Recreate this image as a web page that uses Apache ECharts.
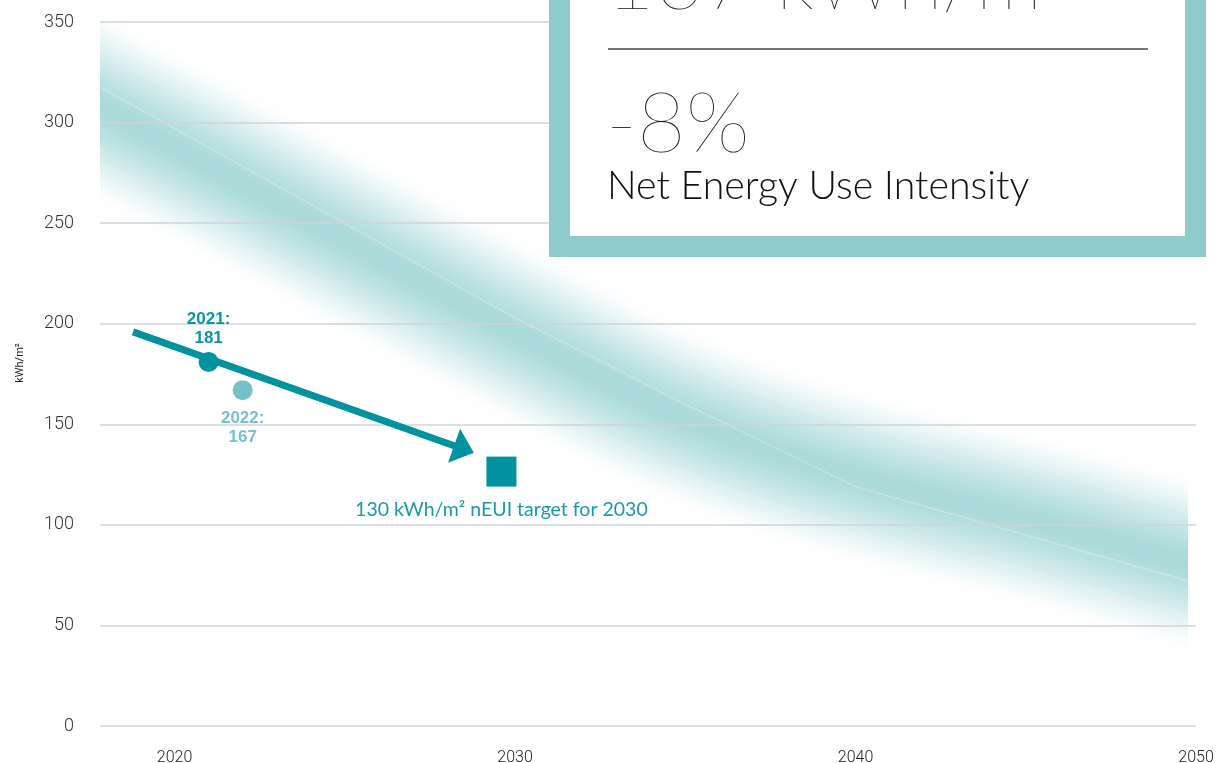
<!DOCTYPE html>
<html>
<head>
<meta charset="utf-8">
<script src="https://cdn.jsdelivr.net/npm/echarts@6/dist/echarts.min.js"></script>
<style>html,body{margin:0;padding:0;background:#fff}#c{width:1216px;height:763px}</style>
</head>
<body>
<div id="c"></div>
<script>
// ---- data ----
const yTicks = [0, 50, 100, 150, 200, 250, 300, 350];
const xTickYears = [2020, 2030, 2040, 2050];
// soft decarbonisation band (centre of the blurred band)
const bandYears  = [2016, 2018, 2020, 2025, 2030, 2035, 2040, 2045, 2050, 2052];
const bandValues = [325, 306, 288, 242, 196, 153, 124, 103, 80, 71];
// pathway line inside the band
const pathYears  = [2016, 2018, 2020, 2025, 2030, 2035, 2040, 2045, 2050, 2052];
const pathValues = [338, 316, 297, 250, 203, 160, 119, 95, 71, 61];
// actual values
const actualYears  = [2021, 2022];
const actualValues = [181, 167];
// trend arrow (start / arrow-head centre)
const trendYears  = [2018.78, 2028.5];
const trendValues = [196, 137.6];
// target
const targetYears  = [2029.6];
const targetValues = [126.5];
const targetLabel = '130 kWh/m\u00b2 nEUI target for 2030';
// KPI box texts
const boxValue  = '167 kWh/m\u00b2';
const boxChange = '-8%';
const boxMetric = 'Net Energy Use Intensity';
const yAxisName = 'kWh/m\u00b2';

// ---- build ----
const bandData = bandYears.map((y, i) => [y, bandValues[i]]);
const pathData = pathYears.map((y, i) => [y, pathValues[i]]);

const N = 22, wMin = 6, wMax = 178, Amax = 0.9;
function smooth(t) { return t * t * (3 - 2 * t); }
const bandSeries = [];
let prevT = 0;
for (let m = 1; m <= N; m++) {
  const T = Amax * smooth(m / N);
  const a = 1 - (1 - T) / (1 - prevT);
  prevT = T;
  const w = wMax - (wMax - wMin) * (m - 1) / (N - 1);
  bandSeries.push({
    type: 'line', data: bandData, symbol: 'none', smooth: 0.35, silent: true,
    animation: false, z: 1,
    lineStyle: { width: w, color: 'rgba(163,214,214,' + a.toFixed(4) + ')', cap: 'butt', join: 'round' }
  });
}

const teal = '#00939f';
const lightTeal = '#76c0c8';

const option = {
  animation: false,
  grid: { left: 100, right: 20, top: 0, bottom: 37, containLabel: false, outerBoundsMode: 'none' },
  xAxis: {
    type: 'value', min: 2017.81, max: 2050, z: 2,
    axisLine: { show: false }, axisTick: { show: false }, splitLine: { show: false },
    axisLabel: { customValues: xTickYears, margin: 24, color: '#222', fontSize: 16,
      fontFamily: 'Roboto', fontWeight: 300, formatter: v => String(v) }
  },
  yAxis: {
    type: 'value', min: 0, max: 361, interval: 50, z: 2,
    name: yAxisName, nameLocation: 'middle', nameGap: 74, nameRotate: 90,
    nameTextStyle: { color: '#222', fontSize: 11, fontFamily: 'Roboto' },
    axisLine: { show: false }, axisTick: { show: false },
    axisLabel: { margin: 26, color: '#333', fontSize: 18, fontFamily: 'Roboto', fontWeight: 300,
      showMaxLabel: false, formatter: v => (yTicks.indexOf(v) >= 0 ? String(v) : '') },
    splitLine: { show: true, showMaxLine: false, lineStyle: { color: '#cfd3d8', width: 1.5 } }
  },
  series: bandSeries.concat([
    {
      type: 'line', data: pathData, symbol: 'none', silent: true, z: 1,
      lineStyle: { width: 1.5, color: 'rgba(255,255,255,0.22)' }
    },
    {
      type: 'scatter', z: 5, symbolSize: 20,
      data: [
        { value: [actualYears[0], actualValues[0]], itemStyle: { color: teal, opacity: 1 },
          label: { show: true, position: 'top', distance: 4, color: '#0a96a2' } },
        { value: [actualYears[1], actualValues[1]], itemStyle: { color: lightTeal, opacity: 1 },
          label: { show: true, position: 'bottom', distance: 9, color: '#79c0c8' } }
      ],
      itemStyle: { opacity: 1 },
      label: {
        fontFamily: 'Liberation Sans', fontWeight: 'bold', fontSize: 17, lineHeight: 19,
        formatter: p => p.value[0] + ':\n' + p.value[1]
      },
      markLine: {
        silent: true, animation: false,
        label: { show: false },
        lineStyle: { color: teal, width: 7, type: 'solid', opacity: 1 },
        emphasis: { disabled: true },
        data: [[
          { coord: [trendYears[0], trendValues[0]], symbol: 'none' },
          { coord: [trendYears[1], trendValues[1]], symbol: 'triangle', symbolSize: [36, 21] }
        ]]
      }
    },
    {
      type: 'scatter', z: 5, symbol: 'rect', symbolSize: 30,
      data: targetYears.map((y, i) => [y, targetValues[i]]),
      itemStyle: { color: teal, opacity: 1 },
      label: { show: true, position: 'bottom', distance: 13, color: '#1b9aa6',
        fontFamily: 'Lato', fontSize: 19.5, formatter: () => targetLabel }
    }
  ]),
  graphic: [
    // masks keeping the soft band inside the plot area
    { type: 'rect', z: 1.5, silent: true, shape: { x: 0, y: 0, width: 100, height: 763 }, style: { fill: '#fff' } },
    { type: 'rect', z: 1.5, silent: true, shape: { x: 1188, y: 0, width: 28, height: 763 }, style: { fill: '#fff' } },
    // KPI box
    { type: 'rect', z: 100, shape: { x: 549, y: -40, width: 657, height: 297 }, style: { fill: '#8ecbca' } },
    { type: 'rect', z: 101, shape: { x: 570, y: -40, width: 615, height: 276 }, style: { fill: '#ffffff' } },
    { type: 'line', z: 102, shape: { x1: 608, y1: 49, x2: 1148, y2: 49 }, style: { stroke: '#4a4a4a', lineWidth: 1.5 } },
    { type: 'text', z: 102, style: { text: boxValue, x: 606, y: -18, verticalAlign: 'middle',
        font: '200 84px Lato', fill: '#111' } },
    { type: 'text', z: 102, style: { text: boxChange, x: 606, y: 125, verticalAlign: 'middle',
        font: '200 84px Lato', fill: '#111' } },
    { type: 'text', z: 102, style: { text: boxMetric, x: 607, y: 186, verticalAlign: 'middle',
        font: '300 39.3px Lato', fill: '#111' } }
  ]
};

const chart = echarts.init(document.getElementById('c'), null, { renderer: 'canvas' });
chart.setOption(option);
</script>
</body>
</html>
